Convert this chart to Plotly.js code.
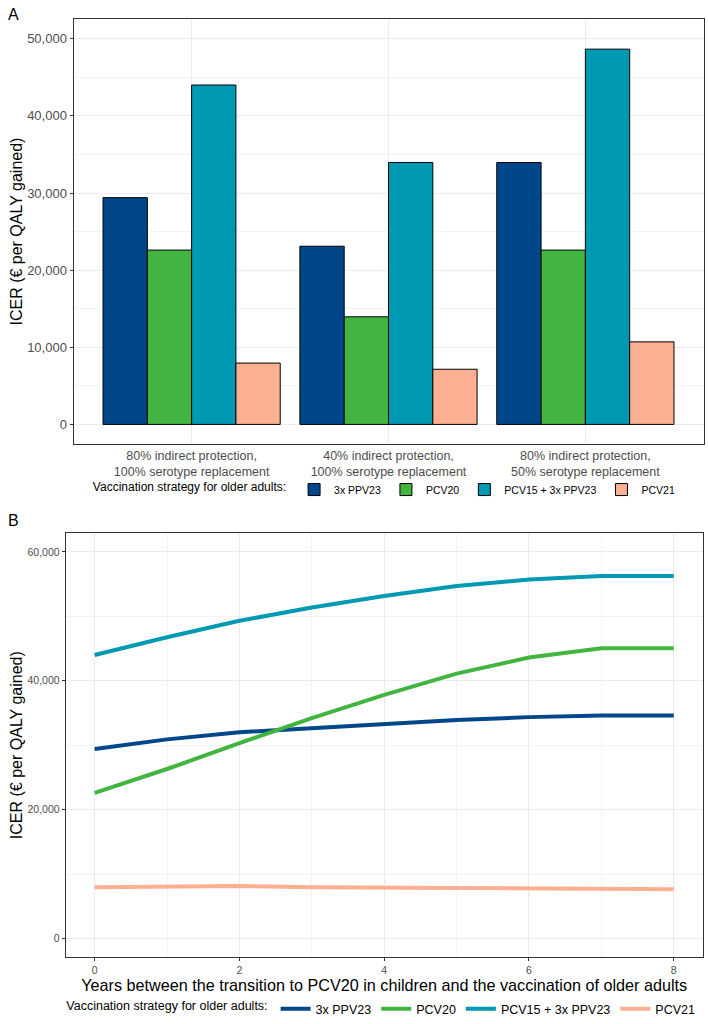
<!DOCTYPE html>
<html>
<head>
<meta charset="utf-8">
<script src="https://cdn.plot.ly/plotly-3.0.1.min.js"></script>
<style>
html,body{margin:0;padding:0;background:#fff;}
#chart{width:708px;height:1024px;}
</style>
</head>
<body>
<div id="chart"></div>
<script>
// ---- Data ----
const strategies = ["3x PPV23", "PCV20", "PCV15 + 3x PPV23", "PCV21"];
const colors = ["#00468B", "#42B540", "#0099B4", "#FDAF91"];

// Panel A: scenarios
const scenarios = [
  "80% indirect protection,<br>100% serotype replacement",
  "40% indirect protection,<br>100% serotype replacement",
  "80% indirect protection,<br>50% serotype replacement"
];
const icerPPV23 = [29400, 23100, 33950];
const icerPCV20 = [22600, 13950, 22600];
const icerPCV15PPV23 = [44000, 33950, 48650];
const icerPCV21 = [7950, 7150, 10700];

// Panel B: years between transition and vaccination
const years = [0, 1, 2, 3, 4, 5, 6, 7, 8];
const linePPV23 = [29400, 30900, 32000, 32650, 33350, 33900, 34350, 34600, 34600];
const linePCV20 = [22600, 26300, 30300, 34200, 37800, 41100, 43600, 45050, 45050];
const linePCV15PPV23 = [44000, 46750, 49300, 51350, 53150, 54700, 55700, 56250, 56250];
const linePCV21 = [7950, 8050, 8150, 7950, 7850, 7800, 7750, 7700, 7650];

const barSeries = [icerPPV23, icerPCV20, icerPCV15PPV23, icerPCV21];
const lineSeries = [linePPV23, linePCV20, linePCV15PPV23, linePCV21];

const FONT = "Liberation Sans, Arial, sans-serif";
const traces = [];
barSeries.forEach((vals, i) => {
  traces.push({
    type: "bar", x: scenarios, y: vals, name: strategies[i],
    xaxis: "x", yaxis: "y", legend: "legend",
    marker: {color: colors[i], line: {color: "#000000", width: 1}},
    hoverinfo: "none"
  });
});
lineSeries.forEach((vals, i) => {
  traces.push({
    type: "scatter", mode: "lines", x: years, y: vals, name: strategies[i],
    xaxis: "x2", yaxis: "y2", legend: "legend2",
    line: {color: colors[i], width: 4},
    hoverinfo: "none"
  });
});

const gridc = "#ebebeb";
const layout = {
  width: 708, height: 1024,
  margin: {l: 0, r: 0, t: 0, b: 0},
  paper_bgcolor: "#ffffff", plot_bgcolor: "#ffffff",
  font: {family: FONT, color: "#000"},
  barmode: "group", bargap: 0.1, bargroupgap: 0,
  showlegend: true,
  xaxis: {
    domain: [73.5/708, 703.5/708], anchor: "y",
    type: "category", range: [-0.6, 2.6],
    showgrid: true, gridcolor: gridc, gridwidth: 1,
    showline: true, mirror: true, linecolor: "#333333", linewidth: 1,
    ticks: "", tickfont: {size: 12.5, color: "#4d4d4d", family: FONT},
    fixedrange: true, zeroline: false
  },
  yaxis: {
    domain: [(1024-445)/1024, (1024-19.5)/1024], anchor: "x",
    range: [-2500, 52500], tickvals: [0, 10000, 20000, 30000, 40000, 50000],
    tickformat: ",d", showgrid: true, gridcolor: gridc, gridwidth: 1,
    minor: {tickvals: [5000, 15000, 25000, 35000, 45000], showgrid: true, gridcolor: "#f3f3f3", gridwidth: 1},
    showline: true, mirror: true, linecolor: "#333333", linewidth: 1,
    ticks: "outside", ticklen: 3, tickcolor: "#333333",
    tickfont: {size: 13, color: "#4d4d4d", family: FONT},
    title: {text: "ICER (€ per QALY gained)", font: {size: 16, color: "#000", family: FONT}, standoff: 0},
    zeroline: false, fixedrange: true
  },
  xaxis2: {
    domain: [65.7/708, 702.7/708], anchor: "y2",
    range: [-0.4, 8.4], tickvals: [0, 2, 4, 6, 8],
    showgrid: true, gridcolor: gridc, gridwidth: 1,
    minor: {tickvals: [1, 3, 5, 7], showgrid: true, gridcolor: "#f3f3f3", gridwidth: 1},
    showline: true, mirror: true, linecolor: "#333333", linewidth: 1,
    ticks: "outside", ticklen: 3, tickcolor: "#333333",
    tickfont: {size: 10.5, color: "#4d4d4d", family: FONT},
    title: {text: "Years between the transition to PCV20 in children and the vaccination of older adults", font: {size: 16.2, color: "#000", family: FONT}, standoff: 2},
    zeroline: false, fixedrange: true
  },
  yaxis2: {
    domain: [(1024-960)/1024, (1024-534.7)/1024], anchor: "x2",
    range: [-2900, 62900], tickvals: [0, 20000, 40000, 60000],
    tickformat: ",d", showgrid: true, gridcolor: gridc, gridwidth: 1,
    minor: {tickvals: [10000, 30000, 50000], showgrid: true, gridcolor: "#f3f3f3", gridwidth: 1},
    showline: true, mirror: true, linecolor: "#333333", linewidth: 1,
    ticks: "outside", ticklen: 3, tickcolor: "#333333",
    tickfont: {size: 10.5, color: "#4d4d4d", family: FONT},
    title: {text: "ICER (€ per QALY gained)", font: {size: 16, color: "#000", family: FONT}, standoff: 0},
    zeroline: false, fixedrange: true
  },
  legend: {
    orientation: "h", x: 0.545, xanchor: "center", y: (1024-491)/1024, yanchor: "middle",
    title: {text: "Vaccination strategy for older adults:", side: "left", font: {size: 12, color: "#000", family: FONT}},
    font: {size: 10.5, color: "#000", family: FONT},
    itemwidth: 30, traceorder: "normal", bgcolor: "rgba(0,0,0,0)"
  },
  legend2: {
    orientation: "h", x: 0.54, xanchor: "center", y: (1024-1012)/1024, yanchor: "middle",
    title: {text: "Vaccination strategy for older adults:", side: "left", font: {size: 12.5, color: "#000", family: FONT}},
    font: {size: 12.5, color: "#000", family: FONT},
    itemwidth: 30, traceorder: "normal", bgcolor: "rgba(0,0,0,0)"
  },
  annotations: [
    {text: "A", x: 6/708, y: 1 - 4/1024, xref: "paper", yref: "paper", xanchor: "left", yanchor: "top", showarrow: false, font: {size: 16, color: "#000", family: FONT}},
    {text: "B", x: 6/708, y: 1 - 511/1024, xref: "paper", yref: "paper", xanchor: "left", yanchor: "top", showarrow: false, font: {size: 16, color: "#000", family: FONT}}
  ]
};

Plotly.newPlot("chart", traces, layout, {displayModeBar: false, staticPlot: true});
</script>
</body>
</html>
